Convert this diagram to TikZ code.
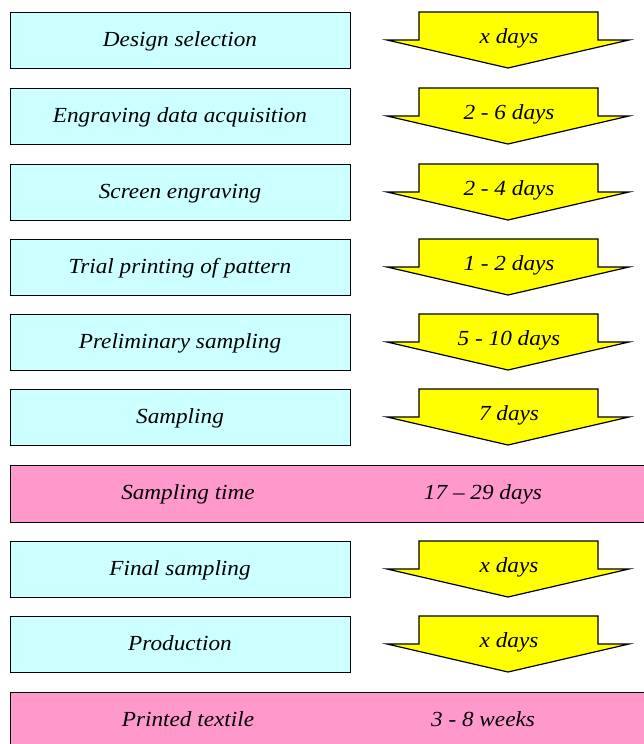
\documentclass[tikz,border=0pt]{standalone}
\usepackage{fontspec}
\setmainfont{Liberation Serif}
\definecolor{cyanbox}{HTML}{CCFFFF}
\definecolor{pinkbox}{HTML}{FF99CC}
\definecolor{yelarrow}{HTML}{FFFF00}
\newcommand{\tx}[1]{\scalebox{1.08}[1.0]{\itshape #1}}
\begin{document}
\begin{tikzpicture}[x=1pt,y=-1pt,
  stepbox/.style={draw=black, line width=1.2pt, fill=cyanbox, minimum width=340pt,
    minimum height=56pt, inner sep=0pt, anchor=north west},
  sumbox/.style={draw=black, line width=1.2pt, fill=pinkbox, minimum width=650pt,
    minimum height=57pt, inner sep=0pt, anchor=north west},
  arrowshape/.style={draw=black, line width=1.2pt, fill=yelarrow, line join=miter},
  lbl/.style={inner sep=0pt, anchor=base, font=\fontsize{21.5}{24}\selectfont}]
\useasboundingbox (0,0) rectangle (644,744);
\foreach \t/\i/\name/\dur in {12/1/Design selection/x days,
    88/2/Engraving data acquisition/2 - 6 days,
    164/3/Screen engraving/2 - 4 days,
    239/4/Trial printing of pattern/1 - 2 days,
    314/5/Preliminary sampling/5 - 10 days,
    389/6/Sampling/7 days,
    541/7/Final sampling/x days,
    616/8/Production/x days}{
  \node[stepbox] (b\i) at (10,\t) {};
  \node[lbl] (t\i) at (180,\t+34) {\tx{\name}};
  \draw[arrowshape] (419,\t) -- (598,\t) -- (598,\t+28) -- (629,\t+28) -- (508,\t+56)
     -- (387,\t+28) -- (419,\t+28) -- cycle;
  \node[lbl] (d\i) at (509,\t+31) {\tx{\dur}};
}
\node[sumbox] (s1) at (10,465) {};
\node[lbl] (s1a) at (188,499) {\tx{Sampling time}};
\node[lbl] (s1b) at (483,499) {\tx{17 – 29 days}};
\node[sumbox, minimum height=70pt] (s2) at (10,692) {};
\node[lbl] (s2a) at (188,726) {\tx{Printed textile}};
\node[lbl] (s2b) at (483,726) {\tx{3 - 8 weeks}};
\end{tikzpicture}
\end{document}
